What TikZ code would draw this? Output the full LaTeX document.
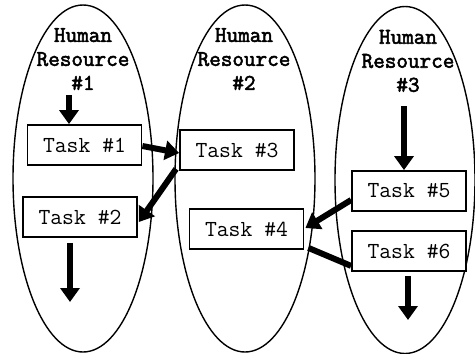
\documentclass[tikz,border=0pt]{standalone}
\usepackage{fontspec}
\newfontfamily\hdfont{Latin Modern Mono}[FakeBold=2.5]
\usetikzlibrary{arrows.meta,shapes.geometric,calc}
\begin{document}
\begin{tikzpicture}[x=1pt,y=-1pt,
  hr/.style={draw,ellipse,line width=1.4pt,inner sep=0pt,minimum width=140pt,minimum height=347pt},
  hrlabel/.style={align=center,inner sep=0pt,font=\hdfont\fontsize{22.5}{24}\selectfont},
  taskbox/.style={draw,fill=white,line width=1.8pt,rectangle,minimum width=114pt,minimum height=40pt,inner sep=0pt,font=\ttfamily\fontsize{23}{24}\selectfont},
  arr/.style={line width=6pt,-{Triangle[length=14pt,width=19pt]}},
  link/.style={line width=6pt}]
\useasboundingbox (0,0) rectangle (475,354);
\node[hr] (hr1) at (83,178.5) {};
\node[hr] (hr2) at (245,178.5) {};
\node[hr] (hr3) at (405,180) {};
\node[hrlabel] (l1) at (83,59) {Human\\Resource\\\#1};
\node[hrlabel] (l2) at (244,59) {Human\\Resource\\\#2};
\node[hrlabel] (l3) at (408,61) {Human\\Resource\\\#3};
\node[taskbox] (t1) at (84.5,145) {Task \#1};
\node[taskbox] (t2) at (80,217) {Task \#2};
\node[taskbox] (t3) at (237,150) {Task \#3};
\node[taskbox] (t4) at (246.5,229) {Task \#4};
\node[taskbox] (t5) at (409,191) {Task \#5};
\node[taskbox] (t6) at (409,251) {Task \#6};
\coordinate (s1) at (69,95);
\coordinate (s5) at (404,106);
\coordinate (e2) at (70,302);
\coordinate (e6) at (408,320);
\draw[arr] (s1) -- (s1 |- t1.north);
\draw[arr] (s5) -- (s5 |- t5.north);
\draw[arr] ($(t1.east)+(0,1)$) -- ($(t3.west)+(0,3)$);
\draw[arr] ($(t3.south west)+(-3,-2)$) -- ($(t2.east)+(1,5)$);
\draw[arr] ($(t5.west)+(0,9)$) -- ($(t4.east)+(1,-1)$);
\draw[link] ($(t4.south east)+(4,-2)$) -- ($(t6.south west)+(0,-6)$);
\draw[arr] (e2 |- t2.south) ++(0,5) -- (e2);
\draw[arr] (e6 |- t6.south) ++(0,4) -- (e6);
\end{tikzpicture}
\end{document}
